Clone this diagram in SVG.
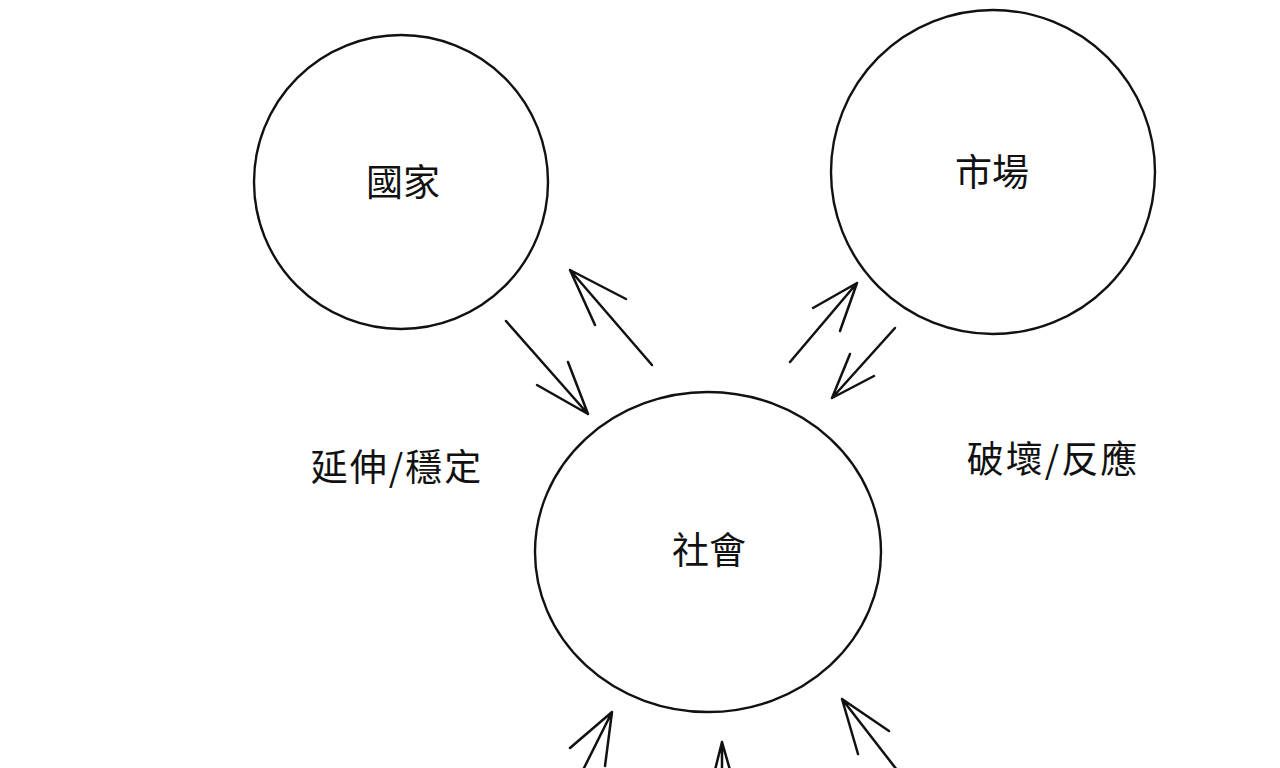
<svg xmlns="http://www.w3.org/2000/svg" width="1280" height="768" viewBox="0 0 1280 768">
<style>
.node{fill:none;stroke:#111;stroke-width:2.4}
.c{fill:none;stroke:#111;stroke-width:2.5;stroke-linecap:round;stroke-linejoin:round}
.t{font-family:"Noto Sans CJK TC","Noto Sans CJK SC",sans-serif;font-size:37px;fill:#111;text-anchor:middle;dominant-baseline:central}
.l{letter-spacing:2px}
</style>
<rect width="1280" height="768" fill="#fff"/>
<g id="state">
<ellipse class="node" cx="401" cy="182" rx="147" ry="147"/>
<text class="t" x="403" y="180">國家</text>
</g>
<g id="market">
<ellipse class="node" cx="993" cy="172" rx="162" ry="162"/>
<text class="t" x="992" y="170">市場</text>
</g>
<g id="society">
<ellipse class="node" cx="708" cy="552" rx="173" ry="160"/>
<text class="t" x="709" y="548">社會</text>
</g>
<g id="label-left">
<text class="t l" x="397" y="465">延伸/穩定</text>
</g>
<g id="label-right">
<text class="t l" x="1053" y="457">破壞/反應</text>
</g>
<g id="connectors">
<path class="c" d="M506 321 L588 414 M537 385 L588 414 L568 362"/>
<path class="c" d="M652 365 L570 270 M626 299 L570 270 L595 325"/>
<path class="c" d="M790 362 L857 283 M813 308 L857 283 L840 331"/>
<path class="c" d="M895 328 L832 398 M850 354 L832 398 L874 376"/>
<path class="c" d="M583 770 L612 712 M570 748 L612 712 L605 766"/>
<path class="c" d="M722 770 L722 742 M715 770 L722 742 L730 770"/>
<path class="c" d="M897 770 L842 699 M889 731 L842 699 L858 754"/>
</g>
</svg>
